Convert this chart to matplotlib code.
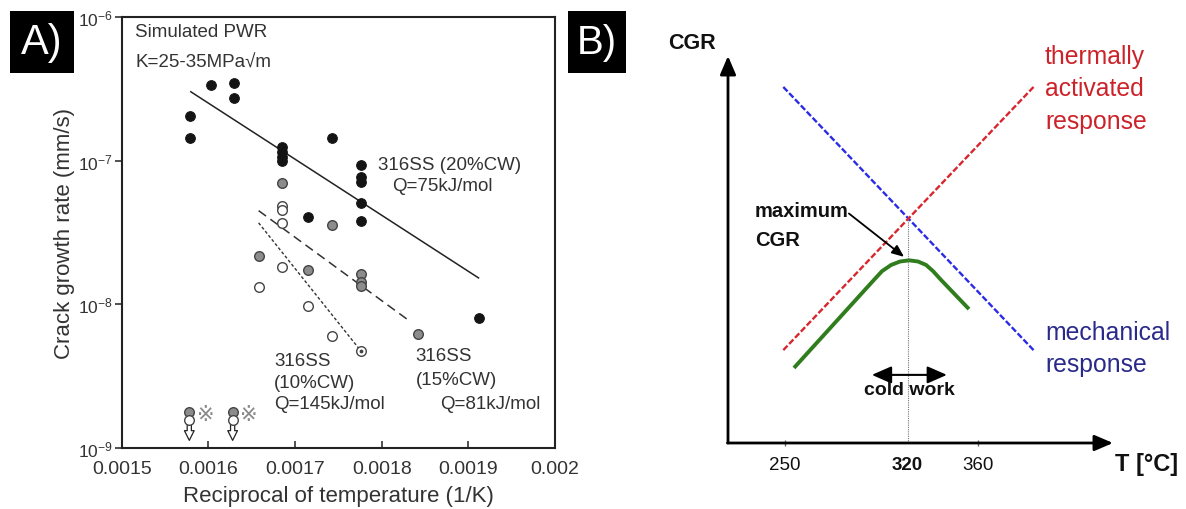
import numpy as np
import matplotlib
matplotlib.use("Agg")
import matplotlib.pyplot as plt
from matplotlib.patches import Rectangle
from matplotlib import transforms
from matplotlib.ticker import NullLocator, FixedLocator

plt.rcParams['font.family'] = ['Liberation Sans', 'DejaVu Sans']
plt.rcParams['mathtext.fontset'] = 'custom'
plt.rcParams['mathtext.rm'] = 'Liberation Sans'
plt.rcParams['mathtext.it'] = 'Liberation Sans:italic'
plt.rcParams['mathtext.bf'] = 'Liberation Sans:bold'

# ---------------- Panel A data ----------------
cw20_x = [0.001579, 0.001579, 0.001603, 0.001630, 0.001630, 0.001685, 0.001685,
          0.001685, 0.001685, 0.001715, 0.001743, 0.001776, 0.001776, 0.001776,
          0.001776, 0.001776, 0.001912]
cw20_y = [2.07e-7, 1.44e-7, 3.38e-7, 3.48e-7, 2.74e-7, 1.245e-7, 1.15e-7,
          1.06e-7, 9.9e-8, 4.08e-8, 1.44e-7, 9.35e-8, 7.7e-8, 7.16e-8,
          5.09e-8, 3.84e-8, 8.0e-9]

cw15_x = [0.001685, 0.001743, 0.001658, 0.001715, 0.001776, 0.001776, 0.001776, 0.001842]
cw15_y = [7.0e-8, 3.58e-8, 2.19e-8, 1.74e-8, 1.64e-8, 1.44e-8, 1.34e-8, 6.2e-9]

cw10_x = [0.001685, 0.001685, 0.001685, 0.001685, 0.001658, 0.001715, 0.001743, 0.001776]
cw10_y = [4.88e-8, 4.52e-8, 3.70e-8, 1.82e-8, 1.33e-8, 9.7e-9, 6.0e-9, 4.74e-9]

fit20_x = [0.001579, 0.0019125]
fit20_y = [3.05e-7, 1.52e-8]
fit15_x = [0.001658, 0.001833]
fit15_y = [4.5e-8, 7.6e-9]
fit10_x = [0.001658, 0.001776]
fit10_y = [3.7e-8, 4.74e-9]

bound_x = [0.001578, 0.001628]
bound_grey_y = [1.79e-9, 1.79e-9]
bound_open_y = [1.57e-9, 1.57e-9]
bound_tip_y = [1.13e-9, 1.13e-9]

x_ticks = [0.0015, 0.0016, 0.0017, 0.0018, 0.0019, 0.002]
x_ticklabels = ["0.0015", "0.0016", "0.0017", "0.0018", "0.0019", "0.002"]
y_ticks = [1e-9, 1e-8, 1e-7, 1e-6]

# ---------------- Panel B data ----------------
temp_ticks = [250, 320, 360]
temp_ticklabels = ["250", "320", "360"]
mech_T = [249, 392]
mech_cgr = [92, 24]
therm_T = [249, 392]
therm_cgr = [24, 92]
obs_T = [255.1, 299.7, 305.4, 310.6, 315.7, 320.9, 326.0, 330.6, 334.6, 338.6, 355.1]
obs_cgr = [19.4, 41.6, 44.4, 46.0, 46.9, 47.2, 46.9, 46.0, 44.4, 42.4, 34.6]
peak_T = 320
cold_work_T = [299.6, 342.5]
cold_work_level = 17.6

W, H = 1186, 510
fig = plt.figure(figsize=(W / 100, H / 100), dpi=100)


def px_box(x0, y0, x1, y1):
    return [x0 / W, 1 - y1 / H, (x1 - x0) / W, (y1 - y0) / H]


def multiline(ax, x, y, lines, dy, **kw):
    for i, s in enumerate(lines):
        tr = transforms.offset_copy(ax.transData, fig=fig, x=0, y=-i * dy, units='dots')
        ax.text(x, y, s, transform=tr, **kw)


# ================= Panel A =================
txt = '#333333'
axA = fig.add_axes(px_box(121.7, 18.3, 555, 449))
axA.set_yscale('log')
axA.set_xlim(0.0015, 0.002)
axA.set_ylim(1e-9, 1e-6)

axA.plot(fit20_x, fit20_y, color='#222222', lw=1.1, solid_capstyle='butt')
axA.plot(fit15_x, fit15_y, color='#333333', lw=1.1, dashes=(6, 3.5))
axA.plot(fit10_x, fit10_y, color='#333333', lw=1.0, dashes=(2.2, 1.6))

ms = 48
axA.scatter(cw20_x, cw20_y, s=ms, facecolor='#141414', edgecolor='#141414', lw=0.8, zorder=3)
axA.scatter(cw15_x, cw15_y, s=ms, facecolor='#8c8c8c', edgecolor='#444444', lw=1.0, zorder=3)
axA.scatter(cw10_x, cw10_y, s=ms, facecolor='white', edgecolor='#444444', lw=1.0, zorder=3)
axA.scatter([cw10_x[-1]], [cw10_y[-1]], s=3, color='#444444', zorder=4)

# below-detection markers
for bx, gy, oy, ty in zip(bound_x, bound_grey_y, bound_open_y, bound_tip_y):
    axA.annotate('', xy=(bx, ty), xytext=(bx, oy * 0.93),
                 arrowprops=dict(arrowstyle='simple,head_width=0.7,head_length=0.7,tail_width=0.3',
                                 fc='white', ec='#222222', lw=0.9, shrinkA=0, shrinkB=0),
                 annotation_clip=False, zorder=2)
    axA.scatter([bx], [gy], s=ms, facecolor='#8c8c8c', edgecolor='#444444', lw=1.0, zorder=4)
    axA.scatter([bx], [oy], s=ms, facecolor='white', edgecolor='#444444', lw=1.0, zorder=4)
    axA.text(bx + 0.000019, gy * 0.96, '\u203b', fontsize=15, color='#8a8a8a',
             family=['DejaVu Sans', 'Noto Sans CJK JP'], ha='center', va='center')

axA.set_xticks(x_ticks, x_ticklabels)
axA.yaxis.set_major_locator(FixedLocator(y_ticks))
axA.yaxis.set_minor_locator(NullLocator())
axA.tick_params(axis='x', direction='in', length=5, width=1.2, pad=9, labelsize=14,
                colors=txt, top=False)
axA.tick_params(axis='y', direction='out', length=5, width=1.2, pad=1.5, labelsize=12.5,
                colors=txt, right=False)
for sp in axA.spines.values():
    sp.set_linewidth(1.5)
    sp.set_color('#222222')

axA.set_xlabel('Reciprocal of temperature (1/K)', fontsize=16, color=txt)
axA.xaxis.set_label_coords(0.5, -0.085)
axA.set_ylabel('Crack growth rate (mm/s)', fontsize=16, color=txt)
axA.yaxis.set_label_coords(-0.108, 0.5)

axA.text(0.031, 0.966, 'Simulated PWR', transform=axA.transAxes, fontsize=13.5,
         color=txt, ha='left', va='center')
axA.text(0.031, 0.897, 'K=25-35MPa\u221am', transform=axA.transAxes, fontsize=13.5,
         color=txt, ha='left', va='center')

kw = dict(fontsize=13.5, color=txt, ha='left', va='center')
axA.text(0.0017953, 9.36e-8, '316SS (20%CW)', **kw)
axA.text(0.0018118, 6.69e-8, 'Q=75kJ/mol', **kw)
multiline(axA, 0.0016757, 4.06e-9, ['316SS', '(10%CW)', 'Q=145kJ/mol'], 21.5, **kw)
multiline(axA, 0.0018394, 4.4e-9, ['316SS', '(15%CW)'], 23.4, **kw)
axA.text(0.0018679, 2.04e-9, 'Q=81kJ/mol', **kw)

# ================= Panel B =================
axB = fig.add_axes(px_box(728, 57, 1113, 444))
axB.set_xlim(217.4, 437.4)
axB.set_ylim(0, 100)
for sp in axB.spines.values():
    sp.set_visible(False)

x0, x1 = axB.get_xlim()
y0, y1 = axB.get_ylim()
arr = dict(arrowstyle='-|>,head_length=0.7,head_width=0.3', lw=2, color='black',
           mutation_scale=16, shrinkA=0, shrinkB=0)
axB.annotate('', xy=(x1, y0), xytext=(x0 - 0.3, y0), arrowprops=arr, annotation_clip=False)
axB.annotate('', xy=(x0, y1), xytext=(x0, y0), arrowprops=arr, annotation_clip=False)

axB.plot(mech_T, mech_cgr, color='#2b2be6', lw=1.7, dashes=(2.6, 1.0))
axB.plot(therm_T, therm_cgr, color='#d8262e', lw=1.7, dashes=(2.6, 1.0))
axB.plot(obs_T, obs_cgr, color='#2f7d1c', lw=2.8, solid_capstyle='butt',
         solid_joinstyle='round')

# intersection of the two responses
sm = (mech_cgr[1] - mech_cgr[0]) / (mech_T[1] - mech_T[0])
st = (therm_cgr[1] - therm_cgr[0]) / (therm_T[1] - therm_T[0])
xi = (therm_cgr[0] - mech_cgr[0] + sm * mech_T[0] - st * therm_T[0]) / (sm - st)
yi = mech_cgr[0] + sm * (xi - mech_T[0])
axB.plot([peak_T, peak_T], [0, yi], color='#777777', lw=0.8, ls=(0, (1, 1)))

axB.annotate('', xy=(cold_work_T[1], cold_work_level), xytext=(cold_work_T[0], cold_work_level),
             arrowprops=dict(arrowstyle='<|-|>,head_length=0.8,head_width=0.35', lw=1.5,
                             color='black', mutation_scale=15, shrinkA=0, shrinkB=0))
axB.text(np.mean(cold_work_T), 13.8, 'cold work', fontsize=14, fontweight='bold',
         ha='center', va='center', color='#111111')

multiline(axB, 232.9, 60.2, ['maximum', 'CGR'], 29, fontsize=14.5, fontweight='bold',
          ha='left', va='center', color='#111111')
axB.annotate('', xy=(318, 48.1), xytext=(286.5, 59.3),
             arrowprops=dict(arrowstyle='-|>,head_length=0.6,head_width=0.25', lw=1.3,
                             color='black', mutation_scale=12, shrinkA=0, shrinkB=0))

axB.set_xticks(temp_ticks, temp_ticklabels)
axB.set_yticks([])
axB.tick_params(axis='x', direction='inout', length=5, width=1, color='#666666',
                pad=7, labelsize=13.5, labelcolor='#111111')
for lab, t in zip(axB.get_xticklabels(), temp_ticks):
    if t == peak_T:
        lab.set_fontweight('bold')
axB.xaxis.get_major_ticks()[temp_ticks.index(peak_T)].tick1line.set_visible(False)

axB.text(196.9, 103.6, 'CGR', fontsize=15.5, fontweight='bold', ha='center', va='center',
         color='#111111')
axB.text(438.6, -5.4, 'T [\u00b0C]', fontsize=17, fontweight='bold', ha='left', va='center',
         color='#111111')
multiline(axB, 398.6, 100, ['thermally', 'activated', 'response'], 32.5,
          fontsize=17.8, color='#cc2229', ha='left', va='center')
multiline(axB, 398.6, 28.7, ['mechanical', 'response'], 32,
          fontsize=17.8, color='#2a2a8a', ha='left', va='center')

# ================= Panel tags =================
fig.add_artist(Rectangle((10 / W, 1 - 74 / H), 64 / W, 62 / H, transform=fig.transFigure,
                         facecolor='black', edgecolor='none'))
fig.text(42 / W, 1 - 43 / H, 'A)', color='white', fontsize=30, ha='center', va='center')
fig.add_artist(Rectangle((568 / W, 1 - 74 / H), 58 / W, 62 / H, transform=fig.transFigure,
                         facecolor='black', edgecolor='none'))
fig.text(597 / W, 1 - 43 / H, 'B)', color='white', fontsize=29, ha='center', va='center')

fig.savefig('out.png', dpi=100)
